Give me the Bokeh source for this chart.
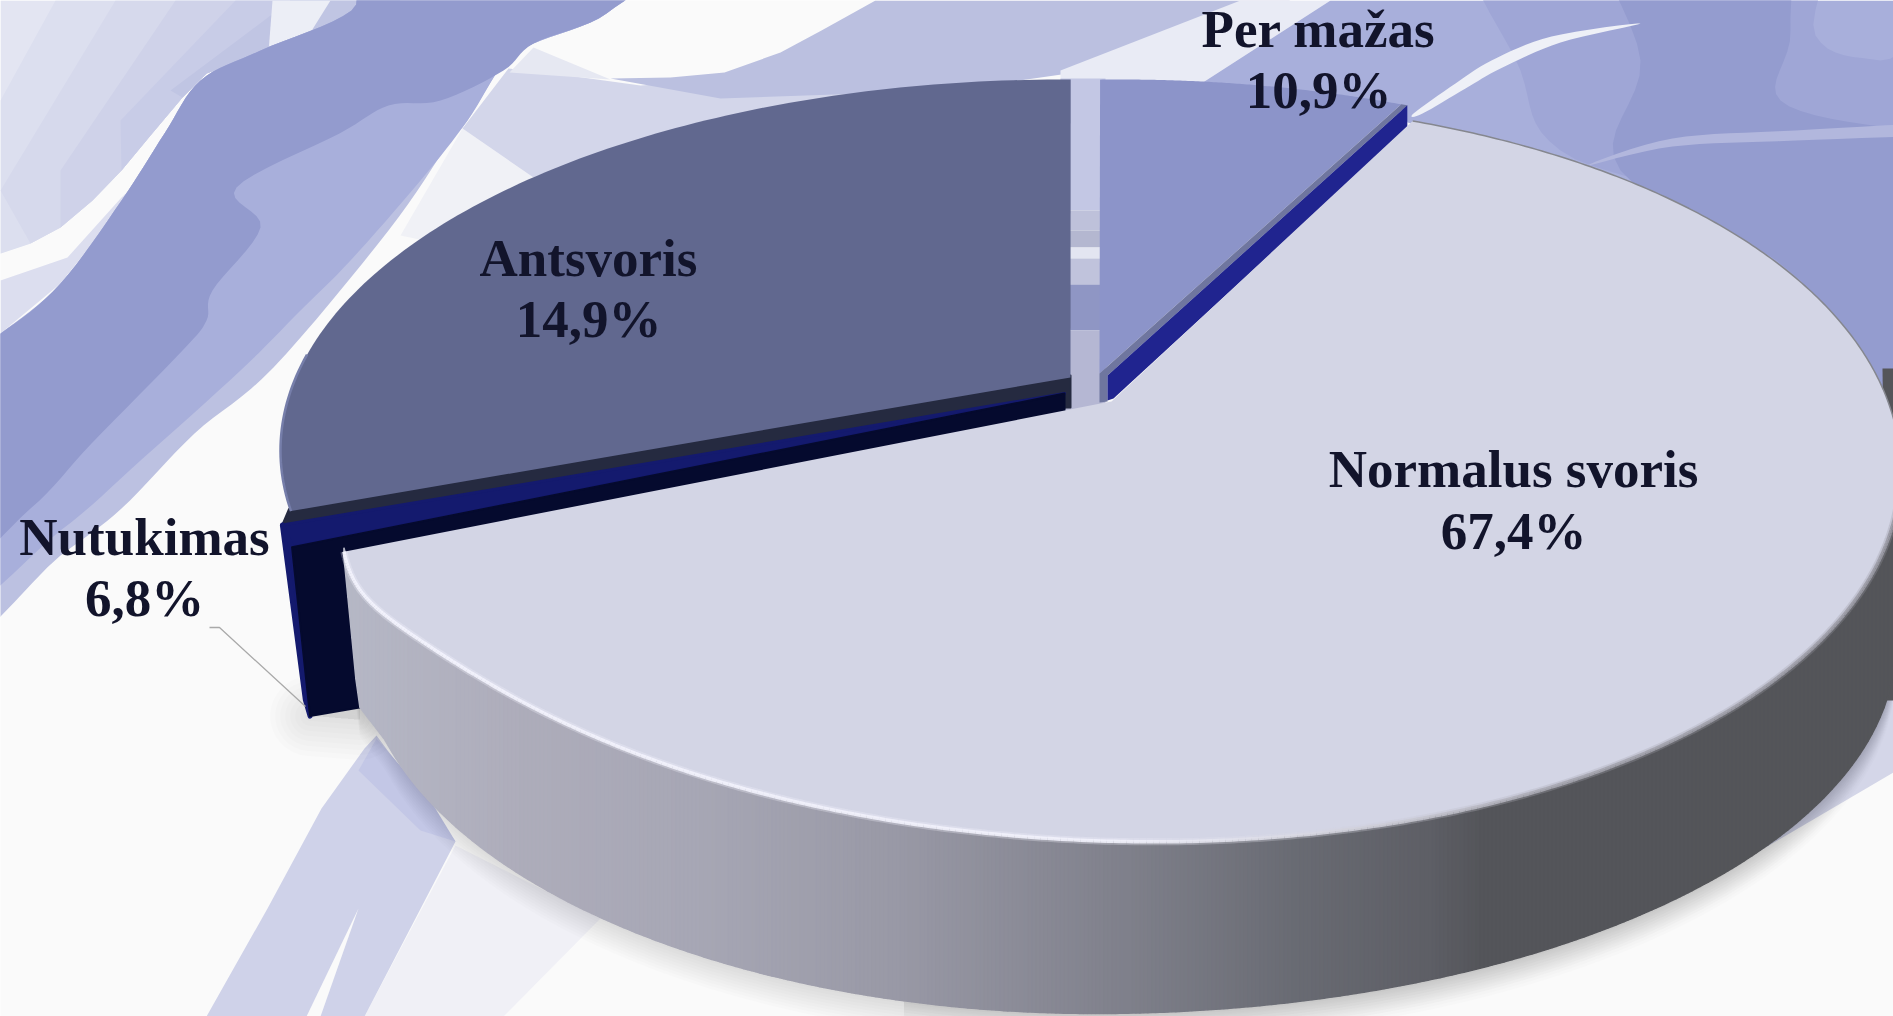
import numpy as np
from bokeh.plotting import figure
from bokeh.models import Range1d
from bokeh.embed import file_html
from bokeh.resources import INLINE
from bokeh.core.properties import value

# ---- data
categories = ["Normalus svoris", "Per mažas", "Antsvoris", "Nutukimas"]
values = [67.4, 10.9, 14.9, 6.8]
# the reference's 3-D pie does not keep every slice proportional: sweep actually drawn, degrees
drawn_sweep = [67.4 * 3.6, 22.6, 100.0, 3.5]
start_angle = [68.0, 91.5, 89.4, 190.0]

W, H = 1893, 1016
p = figure(width=W, height=H, x_range=Range1d(0, W), y_range=Range1d(H, 0),
           x_axis_type=None, y_axis_type=None, toolbar_location=None,
           output_backend="svg", min_border=0, outline_line_color=None,
           background_fill_color="#fafafa", border_fill_color="#fafafa")
p.grid.visible = False


def smooth(pts, n=8):
    # closed Catmull-Rom curve through the given outline points
    P = np.array(pts, float)
    out = []
    m = len(P)
    for i in range(m):
        p0, p1, p2, p3 = P[(i - 1) % m], P[i], P[(i + 1) % m], P[(i + 2) % m]
        for s in np.linspace(0, 1, n, endpoint=False):
            out.append(0.5 * (2 * p1 + (p2 - p0) * s + (2 * p0 - 5 * p1 + 4 * p2 - p3) * s ** 2
                              + (3 * p1 - p0 - 3 * p2 + p3) * s ** 3))
    out = np.array(out)
    return out[:, 0], out[:, 1]


def blob(color, pts, alpha=1.0):
    x, y = smooth(pts)
    p.patch(x, y, fill_color=color, fill_alpha=alpha, line_color=None)


def poly(color, pts):
    P = np.array(pts, float)
    p.patch(P[:, 0], P[:, 1], fill_color=color, line_color=None)


# the pale stroke in the top left corner, its lower edge shared by the shade bands
pale_edge = [(206, 73), (182, 97), (150, 135), (121, 170), (92, 200), (60, 227), (30, 243), (0, 253)]
poly("#e3e5f2", [(0, 0), (400, 0)] + pale_edge)
poly("#dcdfef", [(55, 0), (400, 0)] + pale_edge + [(0, 100)])
poly("#d6d9ec", [(115, 0), (400, 0)] + pale_edge[:-1] + [(0, 190)])
poly("#cfd2e9", [(175, 0), (400, 0)] + pale_edge[:-2] + [(60, 170)])
poly("#c8cce7", [(235, 0), (400, 0)] + pale_edge[:-4] + [(120, 120)])
poly("#c0c5e3", [(290, 0), (400, 0)] + pale_edge[:-6] + [(170, 90)])
poly("#eceef6", [(272, 0), (330, 0), (300, 48), (268, 52)])
poly("#dcdeef", [(0, 280), (67, 257), (121, 197), (150, 170), (60, 283), (0, 333)])
blob("#bcc1e1", [(-60, 375), (0, 333), (60, 283), (121, 200), (164, 133), (200, 80), (260, 50), (351, 10), (376, -40),
                 (640, -40), (606, 13), (533, 43), (503, 63), (467, 120), (448, 143), (388, 230), (273, 367),
                 (194, 433), (121, 508), (60, 555), (-60, 645)])
blob("#a8afdb", [(-60, 370), (0, 333), (60, 283), (121, 200), (164, 133), (200, 80), (260, 50), (351, 10), (376, -40),
                 (640, -40), (606, 13), (533, 43), (503, 63), (467, 120), (420, 180), (350, 260), (300, 310),
                 (240, 370), (140, 460), (60, 530), (-60, 610)])
blob("#939bce", [(-60, 365), (0, 333), (60, 283), (121, 200), (164, 133), (200, 80), (260, 50), (351, 10), (376, -40),
                 (640, -40), (606, 13), (533, 43), (503, 70), (440, 100), (388, 105), (339, 133), (236, 187),
                 (260, 227), (212, 290), (206, 320), (182, 350), (91, 443), (30, 508), (-60, 570)])
poly("#f0f1f6", [(462, 128), (533, 177), (470, 210), (424, 240), (400, 235)])
poly("#d3d6ea", [(462, 128), (508, 68), (560, 74), (640, 85), (800, 75), (1010, 70), (1010, 115), (780, 110),
                 (606, 150), (533, 177)])
poly("#bbc0e0", [(610, 78), (670, 77), (724, 72), (780, 52), (821, 30), (875, 0), (1290, 0), (1075, 72), (950, 90),
                 (720, 98)])
poly("#e6e8f2", [(533, 47), (610, 79), (509, 72)])
poly("#e9ebf5", [(1240, 0), (1330, 0), (1190, 90), (1099, 90), (1060, 90), (1060, 70)])
poly("#a8afdb", [(1330, 0), (1893, 0), (1893, 460), (1850, 320), (1732, 230), (1581, 163), (1407, 122),
                 (1400, 105), (1190, 90)])
blob("#9fa6d6", [(1480, -80), (1800, -80), (1815, 35), (1880, 60), (1960, 60), (1960, 500), (1732, 230), (1560, 150),
                 (1520, 70)])
blob("#949ccf", [(1600, -80), (1770, -80), (1790, 30), (1780, 100), (1893, 128), (1980, 130), (1980, 520),
                 (1800, 280), (1620, 170), (1640, 60)])
blob("#eef0f7", [(1640, 23), (1551, 36), (1491, 60), (1455, 83), (1413, 113), (1422, 113), (1465, 88),
                 (1500, 68), (1560, 42)])
blob("#b2b7dd", [(1587, 165), (1672, 138), (1795, 130), (1960, 122), (1960, 133), (1795, 140), (1672, 146)])
for y0, y1, c in [(78, 210, "#c3c7e4"), (210, 230, "#bec1da"), (230, 247, "#b4b7d0"), (247, 258, "#e3e5f1"),
                  (258, 284, "#c0c3dc"), (284, 330, "#8f96c4"), (330, 420, "#b5b7d3")]:
    p.quad(left=1060, right=1105, top=y0, bottom=y1, fill_color=c, line_color=None)
poly("#f0f0f6", [(455, 845), (364, 1016), (503, 1016), (600, 918)])
poly("#cfd2e9", [(376, 735), (364, 748), (321, 808), (267, 908), (206, 1016), (364, 1016), (455, 841)])
poly("#c3c7e6", [(376, 738), (358, 770), (420, 830), (455, 841), (430, 800)])
poly("#fafafa", [(358, 908), (306, 1016), (320, 1016)])
poly("#d4d6e8", [(1893, 650), (1840, 760), (1760, 850), (1893, 772)])


# ---- pie geometry
def rim(t_deg, cx, cy, a, b):
    t = np.radians(t_deg)
    return cx + a * np.cos(t), cy - b * np.sin(t)


NC = (1120, 470, 780, 371)


def normal_rim(t_deg):
    t = np.asarray(t_deg, float)
    x, y = rim(t, *NC)
    y = y - 8 * np.sin(np.radians(2 * t)) + 48 * np.exp(-((t + 174.6) / 18.0) ** 2)
    return x, y


def wall_bottom(x):
    dx = x - 1095
    a = np.where(dx < 0, 735.0, 800.0)
    s = np.clip(1 - (dx / a) ** 2, 0, 1)
    y = 645 + 368 * np.sqrt(s)
    y = np.where(x < 385, np.interp(x, [343, 358, 385], [552, 705, 740]), y)
    return y


sweep = dict(zip(categories, drawn_sweep))
start = dict(zip(categories, start_angle))
t_left = start["Normalus svoris"] - sweep["Normalus svoris"]


def arc(name, geom):
    direction = 1 if name in ("Antsvoris", "Nutukimas") else -1
    t = np.linspace(start[name], start[name] + direction * sweep[name], 120)
    return rim(t, *geom)


# wall sampled evenly along x so that the shade strips stay a few pixels wide
x_left = NC[0] + NC[2] * np.cos(np.radians(t_left))
wall_x = np.arange(x_left, NC[0] + NC[2], 4.0)
t_wall = -np.degrees(np.arccos(np.clip((wall_x - NC[0]) / NC[2], -1, 1)))
t_wall[0] = t_left
wx, wy = normal_rim(t_wall)
wb = wall_bottom(wx)

# soft shadows
for k in range(1, 11):
    off = k * 3.0
    p.patch(np.r_[wx, wx[::-1]], np.r_[wy, wb[::-1] + off], fill_color="#000000",
            fill_alpha=0.013, line_color=None)
    m = wx > 900
    p.patch(np.r_[wx[m], wx[m][::-1]], np.r_[wy[m], wb[m][::-1] + off * 0.8],
            fill_color="#000000", fill_alpha=0.006, line_color=None)

# Per mažas
gp = (1120, 450, 780, 371)
mx, my = arc("Per mažas", gp)
apex_m = (1099, 373)
p.patch(np.r_[mx, apex_m[0]], np.r_[my, apex_m[1]], fill_color="#8c94c9", line_color=None)
ex, ey = mx[-1], my[-1]
p.patch([apex_m[0], ex, ex + 6, apex_m[0] + 8, apex_m[0] + 8, apex_m[0]],
        [apex_m[1], ey, ey + 1, apex_m[1] + 2, apex_m[1] + 28, apex_m[1] + 29],
        fill_color="#6f769f", line_color=None)
p.patch([ex + 6, ex + 6, apex_m[0] + 14, apex_m[0] + 8, apex_m[0] + 8],
        [ey + 1, ey + 24, apex_m[1] + 25, apex_m[1] + 27, apex_m[1] + 2],
        fill_color="#20248f", line_color=None)

# Nutukimas
gn = (1050, 460, 780, 371)
nx, ny = arc("Nutukimas", gn)
apex_n = (1064, 393)
drop = (18, 169)

# Antsvoris
ga = (1062, 450, 782, 371)
ax_, ay_ = arc("Antsvoris", ga)
apex_a = (1070, 377)

# shadow round the corner of Nutukimas
cx_, cy_ = nx[-1] + drop[0], ny[-1] + drop[1]
for lw in (80, 70, 60, 50, 40, 30, 20, 10):
    p.patch([cx_, cx_ + 50, cx_ + 50], [cy_, cy_ - 8, cy_ + 4], fill_color="#000000", fill_alpha=0.008,
            line_color="#000000", line_alpha=0.012, line_width=lw, line_join="round")

# dark bevel of Antsvoris
p.patch([apex_a[0], ax_[-1] - 2, nx[0], apex_n[0] + 2, apex_a[0]],
        [apex_a[1] - 2, ay_[-1] - 2, ny[0], apex_n[1] + 14, apex_a[1] + 30],
        fill_color="#252a40", line_color="#252a40", line_width=2, line_join="round")

# Antsvoris face
p.patch(np.r_[ax_, apex_a[0]], np.r_[ay_, apex_a[1]], fill_color="#61688f", line_color=None)
p.line(ax_[90:], ay_[90:], line_color="#767eaa", line_width=2.5)

# Nutukimas faces
p.patch([nx[0], nx[-1], apex_n[0]], [ny[0], ny[-1], apex_n[1]], fill_color="#141a6e",
        line_color="#141a6e", line_width=3, line_join="round")
p.patch([nx[0], nx[0] + drop[0] + 5, nx[-1] + drop[0], nx[-1]],
        [ny[0], ny[0] + drop[1] + 6, ny[-1] + drop[1], ny[-1]],
        fill_color="#141a6e", line_color="#141a6e", line_width=5, line_join="round")
p.patch([apex_n[0], nx[-1], nx[-1] + drop[0], nx[-1] + drop[0] + 70, apex_n[0]],
        [apex_n[1], ny[-1], ny[-1] + drop[1], ny[-1] + drop[1] - 12, apex_n[1] + 30],
        fill_color="#050a2e", line_color="#050a2e", line_width=2, line_join="round")

# side wall of Normalus svoris: shade
shade_x = [343, 520, 700, 900, 1130, 1300, 1430, 1480, 1900]
shade_r = [0xb6, 0xae, 0xa7, 0x99, 0x7f, 0x69, 0x5e, 0x55, 0x54]
shade_g = [0xb8, 0xad, 0xa7, 0x99, 0x80, 0x6b, 0x5f, 0x56, 0x55]
shade_b = [0xc6, 0xbb, 0xb5, 0xa6, 0x8b, 0x73, 0x66, 0x5b, 0x59]
p.patch([1882, 1900, 1900, 1886], [368, 368, 700, 700], fill_color="#545559", line_color=None)
wxs, wys, wcs = [], [], []
for i in range(len(wx) - 1):
    wxs.append([wx[i], wx[i + 1], wx[i + 1], wx[i]])
    wys.append([wy[i] - 4, wy[i + 1] - 4, wb[i + 1], wb[i]])
    xm = 0.5 * (wx[i] + wx[i + 1])
    c = [int(np.interp(xm, shade_x, s)) for s in (shade_r, shade_g, shade_b)]
    wcs.append("#%02x%02x%02x" % tuple(c))
p.patch(np.r_[wx, wx[::-1]], np.r_[wy, wb[::-1]], fill_color="#a0a0ad", line_color=None)
p.patches(wxs, wys, fill_color=wcs, line_color=wcs, line_width=1.5)

# Normalus svoris face
tt = np.linspace(start["Normalus svoris"], t_left, 500)
fx, fy = normal_rim(tt)
apex = (1111, 401)
p.patch(np.r_[fx, 1100, apex[0]], np.r_[fy, 403, apex[1]], fill_color="#d3d5e5", line_color=None)

# rim highlight and outline
up = tt > 2
p.line(fx[up], fy[up], line_color="#85878f", line_width=1.5)
low = tt <= 2
segx, segy, segc, = [], [], []
idx = np.where(low)[0]
for i in idx[:-1]:
    segx.append([fx[i], fx[i + 1]])
    segy.append([fy[i], fy[i + 1]])
    c = np.interp(tt[i], [-174, -90, -70, -55, 2], [245, 242, 205, 165, 150])
    segc.append("#%02x%02x%02x" % (int(c), int(c), min(255, int(c) + 10)))
p.multi_line(segx, segy, line_color=segc, line_width=7, line_alpha=0.3)
p.multi_line(segx, segy, line_color=segc, line_width=3.5, line_alpha=0.9)

# leader line of Nutukimas
p.line([209, 219, 305], [627, 627, 706], line_color="#a9a9a9", line_width=1.3)

# ---- labels
fmt = [("%.1f%%" % v).replace(".", ",") for v in values]
label_x = [1513, 1318, 588, 144]
name_y = [468, 28, 257, 536]
pct_y = [530, 89, 318, 597]
for xs_, ys_, tx in ((label_x, name_y, categories), (label_x, pct_y, fmt)):
    p.text(x=xs_, y=ys_, text=tx, text_font=value("Liberation Serif"), text_font_style="bold",
           text_font_size=value("53px"), text_align="center", text_baseline="alphabetic",
           text_color="#12142b")

open("out.html", "w").write(file_html(p, INLINE))
